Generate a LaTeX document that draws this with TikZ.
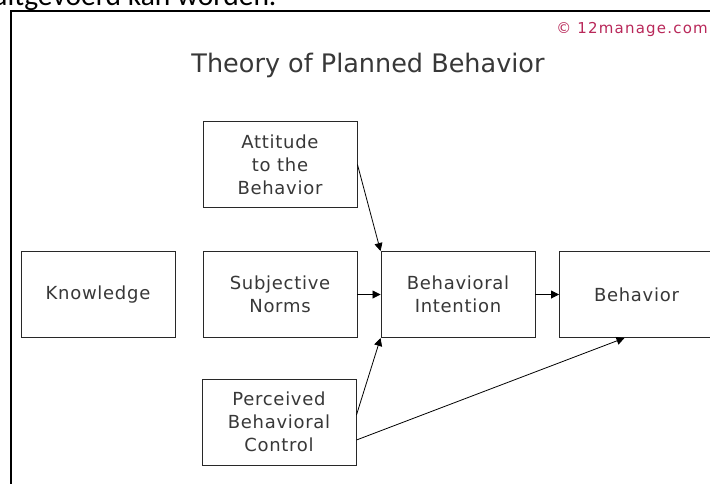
\documentclass[tikz,border=0pt]{standalone}
\usepackage{fontspec}
\setmainfont{DejaVu Sans}
\newfontfamily\carl{Carlito}
\newfontfamily\boxfont[LetterSpace=4]{DejaVu Sans}
\newfontfamily\wmfont[LetterSpace=8]{DejaVu Sans}
\usetikzlibrary{arrows.meta}
\definecolor{wmcol}{RGB}{185,40,90}
\definecolor{lncol}{RGB}{40,40,40}
\begin{document}
\begin{tikzpicture}[x=1pt,y=-1pt,
  box/.style={draw=lncol,line width=0.9pt,minimum width=154pt,minimum height=86pt,
    align=center,font=\boxfont\fontsize{18}{23}\selectfont,text=black!78,inner sep=0pt},
  conn/.style={draw=black,line width=0.8pt,-{Triangle[length=8pt,width=8pt]}}]
\useasboundingbox (0,0) rectangle (710,483);
\clip (0,0) rectangle (710,483);
\fill[white] (0,0) rectangle (710,483);
\node[anchor=base west,font=\carl\fontsize{29.5}{30}\selectfont,inner sep=0pt] (toptext) at (-8,5) {uitgevoerd kan worden.};
\draw[line width=1.2pt] (11,500) -- (11,11) -- (720,11);
\node[anchor=base,font=\fontsize{25.5}{30}\selectfont,text=black!78,inner sep=0pt] (title) at (368,72) {Theory of Planned Behavior};
\node[anchor=base east,text=wmcol,font=\wmfont\fontsize{15}{18}\selectfont,inner sep=0pt] (wm) at (708,33) {© 12manage.com};
\node[box] (kn) at (98,294.5) {Knowledge};
\node[box] (sn) at (280,294.5) {Subjective\\Norms};
\node[box] (bi) at (458,294.5) {Behavioral\\Intention};
\node[box] (beh) at (636.5,294.5) {Behavior};
\node[box] (att) at (280,164.5) {Attitude\\to the\\Behavior};
\node[box] (pbc) at (279,422) {Perceived\\Behavioral\\Control};
\draw[conn] (att.east) -- (bi.north west);
\draw[conn] (sn.east) -- (bi.west);
\draw[conn] ([yshift=7pt]pbc.east) -- (bi.south west);
\draw[conn] ([yshift=-18pt]pbc.east) -- ([xshift=-12pt]beh.south);
\draw[conn] (bi.east) -- (beh.west);
\end{tikzpicture}
\end{document}
